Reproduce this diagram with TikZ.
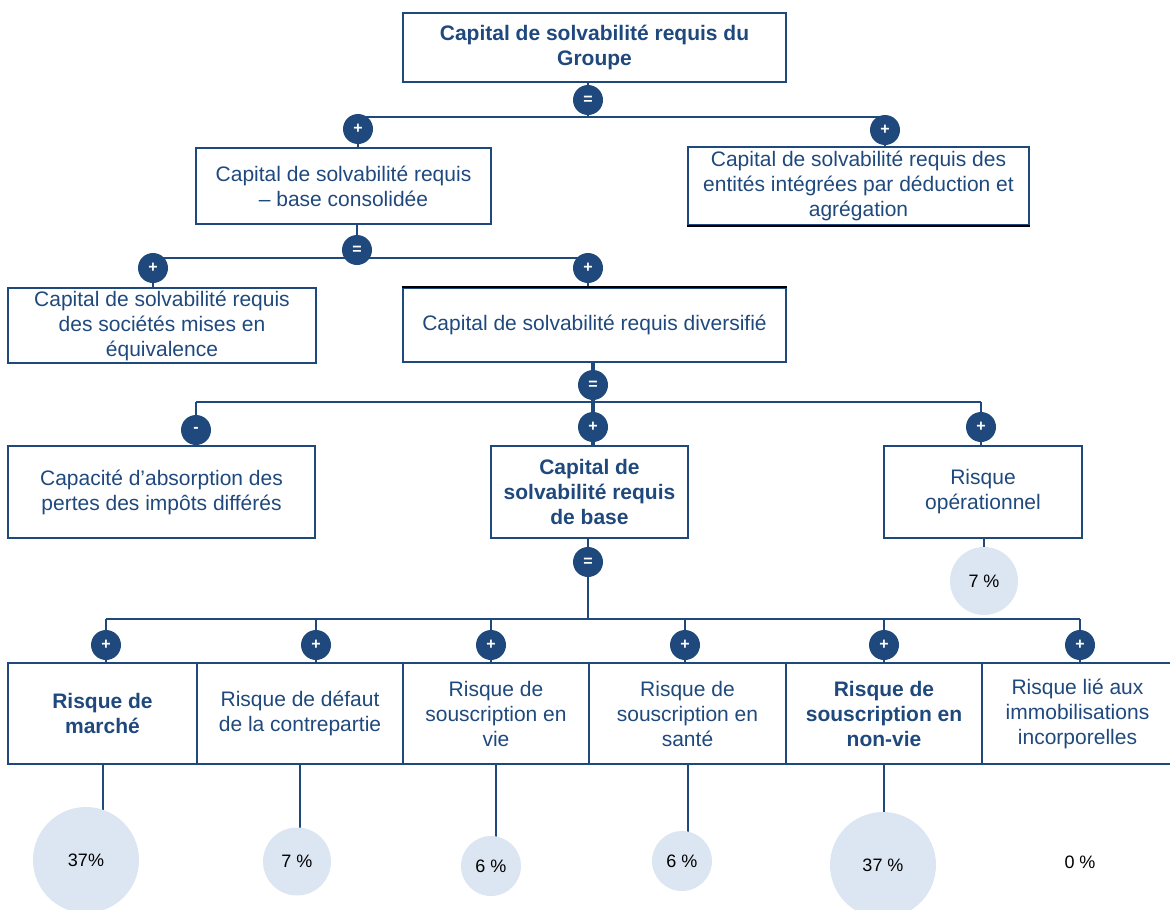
\documentclass[tikz,border=0pt]{standalone}
\usepackage{fontspec}
\setmainfont{Liberation Sans}
\pgfdeclarelayer{bg}
\pgfsetlayers{bg,main}
\definecolor{nv}{HTML}{1F497D}
\definecolor{lb}{HTML}{DCE6F2}
\tikzset{
  box/.style={draw=nv, line width=2.2pt, text=nv, align=center, inner sep=0pt, font=\fontsize{21}{25}\selectfont},
  bbox/.style={box, font=\fontsize{21}{25}\selectfont\bfseries},
  op/.style={circle, fill=nv, text=white, minimum size=30pt, inner sep=0pt, font=\fontsize{16}{16}\selectfont\bfseries},
  pct/.style={circle, fill=lb, inner sep=0pt, text=black, font=\fontsize{18}{18}\selectfont},
  con/.style={draw=nv, line width=2pt},
  thinc/.style={draw=nv, line width=1.3pt},
  thickc/.style={draw=nv, line width=4pt},
}
\begin{document}
\begin{tikzpicture}[x=1pt, y=-1pt]
\useasboundingbox (0,0) rectangle (1170,910);
% level 0
\node[bbox, minimum width=383, minimum height=69] (T) at (594.5,47.5) {Capital de solvabilité requis du\\Groupe};
\node[op] (eqT) at (588,100) {=};
\coordinate (J1) at (588,117);
\node[op] (pA) at (358,129) {+};
\node[op] (pB) at (885,130) {+};
% level 1
\node[box, minimum width=295, minimum height=76] (A) at (343.5,186) {Capital de solvabilité requis\\– base consolidée};
\node[box, minimum width=341, minimum height=78] (B) at (858.5,186) {Capital de solvabilité requis des\\entités intégrées par déduction et\\agrégation};
\node[op] (eqA) at (357,250) {=};
\coordinate (J2) at (357,258);
\node[op] (pC) at (153,268) {+};
\node[op] (pD) at (588,268) {+};
% level 2
\node[box, minimum width=308, minimum height=75] (C) at (162,325.5) {Capital de solvabilité requis\\des sociétés mises en\\équivalence};
\node[box, minimum width=383, minimum height=74] (D) at (594.5,325) {Capital de solvabilité requis diversifié};
\node[op] (eqD) at (593,385) {=};
\coordinate (J3) at (593,402);
\coordinate (J3b) at (360,402);
\node[op] (mE) at (196,430) {-};
\node[op] (pF) at (593,427) {+};
\node[op] (pG) at (981,427) {+};
% level 3
\node[box, minimum width=307, minimum height=92] (E) at (161.5,492) {Capacité d’absorption des\\pertes des impôts différés};
\node[bbox, minimum width=197, minimum height=92] (F) at (589.5,492) {Capital de\\solvabilité requis\\de base};
\node[box, minimum width=198, minimum height=92] (G) at (983,492) {Risque\\opérationnel};
\node[pct, minimum size=68] (cG) at (984,581) {7 \%};
\node[op] (eqF) at (588,562) {=};
\coordinate (J4) at (588,619);
% level 4
\node[op] (q1) at (106,645) {+};
\node[op] (q2) at (316,645) {+};
\node[op] (q3) at (491,645) {+};
\node[op] (q4) at (685,645) {+};
\node[op] (q5) at (884,645) {+};
\node[op] (q6) at (1080,645) {+};
\node[bbox, minimum width=189, minimum height=101] (H1) at (102.5,713.5) {Risque de\\marché};
\node[box, minimum width=206, minimum height=101] (H2) at (300,713.5) {Risque de défaut\\de la contrepartie};
\node[box, minimum width=186, minimum height=101] (H3) at (496,713.5) {Risque de\\souscription en\\vie};
\node[box, minimum width=197, minimum height=101] (H4) at (687.5,713.5) {Risque de\\souscription en\\santé};
\node[bbox, minimum width=196, minimum height=101] (H5) at (884,713.5) {Risque de\\souscription en\\non-vie};
\node[box, minimum width=191, minimum height=101] (H6) at (1077.5,713.5) {Risque lié aux\\immobilisations\\incorporelles};
\node[pct, minimum size=106] (c1) at (86,860) {37\%};
\node[pct, minimum size=68] (c2) at (297,861.5) {7 \%};
\node[pct, minimum size=60] (c3) at (491,866) {6 \%};
\node[pct, minimum size=60] (c4) at (682,861) {6 \%};
\node[pct, minimum size=106] (c5) at (883,865) {37 \%};
\node[text=black, font=\fontsize{18}{18}\selectfont] (c6) at (1080,862) {0 \%};
% black edges seen in the reference
\draw[black, line width=2.2pt] (D.north west) -- (D.north east);
\draw[black, line width=2.2pt] (B.south west) -- (B.south east);
% connectors
\begin{pgfonlayer}{bg}
\draw[con] (T.south -| eqT) -- (eqT) -- (J1);
\draw[con] (pA |- J1) -- (pB |- J1);
\draw[con] (pA |- J1) -- (pA) -- (pA |- A.north);
\draw[con] (pB |- J1) -- (pB) -- (pB |- B.north);
\draw[con] (eqA |- A.south) -- (eqA) -- (J2);
\draw[con] (pC |- J2) -- (pD |- J2);
\draw[con] (pC |- J2) -- (pC) -- (pC |- C.north);
\draw[con] (pD |- J2) -- (pD) -- (pD |- D.north);
\draw[thickc] (eqD |- D.south) -- (eqD) -- (pF) -- (pF |- F.north);
\draw[con] (mE |- J3) -- (J3b);
\draw[thinc] (J3b) -- (pG |- J3);
\draw[con] (mE |- J3) -- (mE) -- (mE |- E.north);
\draw[con] (pG |- J3) -- (pG) -- (pG |- G.north);
\draw[con] (G.south -| cG) -- (cG);
\draw[con] (eqF |- F.south) -- (eqF) -- (J4);
\draw[con] (q1 |- J4) -- (q6 |- J4);
\foreach \q/\h in {q1/H1,q2/H2,q3/H3,q4/H4,q5/H5,q6/H6}
  \draw[con] (\q |- J4) -- (\q) -- (\q |- \h.north);
\draw[con] (H1.south) -- (H1.south |- c1.center);
\draw[con] (H2.south) -- (H2.south |- c2.center);
\draw[con] (H3.south) -- (H3.south |- c3.center);
\draw[con] (H4.south) -- (H4.south |- c4.center);
\draw[con] (H5.south) -- (H5.south |- c5.center);
\end{pgfonlayer}
\end{tikzpicture}
\end{document}
